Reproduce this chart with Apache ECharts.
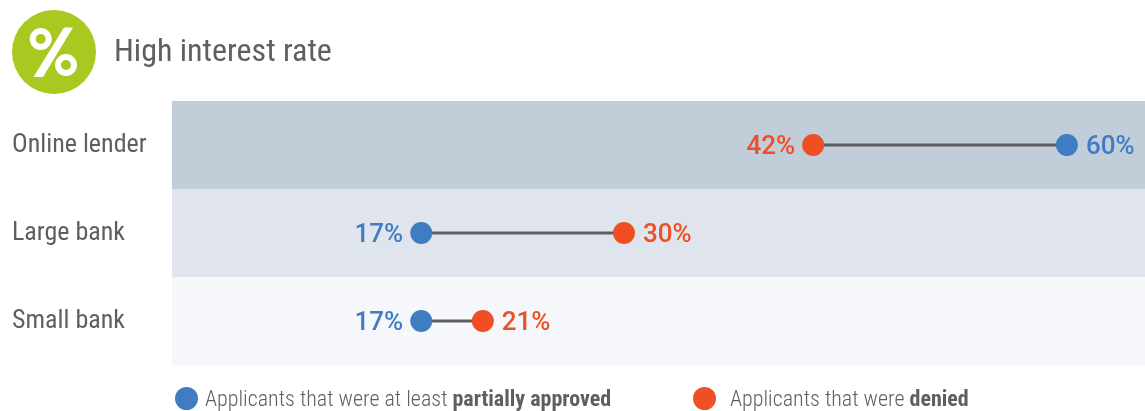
<!DOCTYPE html>
<html>
<head>
<meta charset="utf-8">
<style>html,body{margin:0;padding:0;background:#fff}#main{width:1145px;height:411px}</style>
<script src="https://cdn.jsdelivr.net/npm/echarts@6/dist/echarts.min.js"></script>
</head>
<body>
<div id="main"></div>
<script>
var categories = ['Online lender', 'Large bank', 'Small bank'];
// dot positions
var approved = [60, 17, 17];
var denied = [43.1, 30.5, 21.1];
// printed labels
var approvedLabels = ['60%', '17%', '17%'];
var deniedLabels = ['42%', '30%', '21%'];
var approvedName = 'Applicants that were at least {b|partially approved}';
var deniedName = 'Applicants that were {b|denied}';

var blue = '#3f7cc2', red = '#f04e23', grey = '#5d5f63';
var face = 'Roboto, sans-serif';

var myChart = echarts.init(document.getElementById('main'));

function legendOf(name, left, gap) {
    return {
        left: left, top: 387, data: [name], icon: 'circle',
        itemWidth: 23, itemHeight: 23, padding: 0,
        formatter: '{n|' + name.replace('{b|', '}{b|'),
        textStyle: {
            rich: {
                n: {fontFamily: face, fontSize: 22, fontWeight: '300 condensed', color: grey, padding: [4, 0, 0, gap]},
                b: {fontFamily: face, fontSize: 22, fontWeight: 'bold condensed', color: grey, padding: [4, 0, 0, 0]}
            }
        }
    };
}

// label sits on the outer side of each dumbbell
function dotLabel(own, other, text) {
    var right = own > other;
    return {position: right ? 'right' : 'left', distance: right ? 8 : 7, formatter: text};
}

var option = {
    animation: false,
    title: {
        text: 'High interest rate', left: 109, top: 32,
        textStyle: {color: grey, fontFamily: face, fontSize: 32, fontWeight: 'condensed'}
    },
    grid: {left: 172, right: 0, top: 101, bottom: 46},
    xAxis: {type: 'value', min: 0.4, max: 65.2, show: false},
    yAxis: {
        type: 'category', inverse: true, data: categories,
        axisLine: {show: false}, axisTick: {show: false},
        axisLabel: {
            align: 'left', margin: 160, color: grey, padding: [4, 0, 0, 0],
            fontFamily: face, fontSize: 26, fontWeight: 'condensed'
        },
        splitArea: {show: true, areaStyle: {color: ['#c1cdd9', '#e0e5ed', '#f5f7fa']}}
    },
    legend: [legendOf(approvedName, 175, 2), legendOf(deniedName, 693, 9)],
    graphic: [
        {type: 'circle', shape: {cx: 54, cy: 52, r: 42}, style: {fill: '#a8c91f'}},
        {type: 'circle', shape: {cx: 40.7, cy: 39, r: 8}, style: {fill: 'none', stroke: '#fff', lineWidth: 6}},
        {type: 'circle', shape: {cx: 66, cy: 65, r: 8}, style: {fill: 'none', stroke: '#fff', lineWidth: 6}},
        {type: 'polygon', shape: {points: [[64, 27.5], [73, 27.5], [43, 77], [33.5, 77]]}, style: {fill: '#fff'}}
    ],
    series: [
        {
            type: 'custom', z: 2, silent: true,
            data: categories.map(function (c, i) { return [approved[i], denied[i], i]; }),
            encode: {x: [0, 1], y: 2},
            renderItem: function (params, api) {
                var a = api.coord([api.value(0), api.value(2)]);
                var b = api.coord([api.value(1), api.value(2)]);
                return {type: 'line', shape: {x1: a[0], y1: a[1], x2: b[0], y2: b[1]},
                    style: {stroke: grey, lineWidth: 3}};
            }
        },
        {
            name: approvedName, type: 'scatter', symbolSize: 22, z: 3,
            data: categories.map(function (c, i) {
                return {value: [approved[i], i], label: dotLabel(approved[i], denied[i], approvedLabels[i])};
            }),
            itemStyle: {color: blue, opacity: 1},
            label: {show: true, offset: [0, 2], color: blue, fontFamily: 'Roboto', fontSize: 26, fontWeight: 500}
        },
        {
            name: deniedName, type: 'scatter', symbolSize: 22, z: 3,
            data: categories.map(function (c, i) {
                return {value: [denied[i], i], label: dotLabel(denied[i], approved[i], deniedLabels[i])};
            }),
            itemStyle: {color: red, opacity: 1},
            label: {show: true, offset: [0, 2], color: red, fontFamily: 'Roboto', fontSize: 26, fontWeight: 500}
        }
    ]
};
myChart.setOption(option);
</script>
</body>
</html>
